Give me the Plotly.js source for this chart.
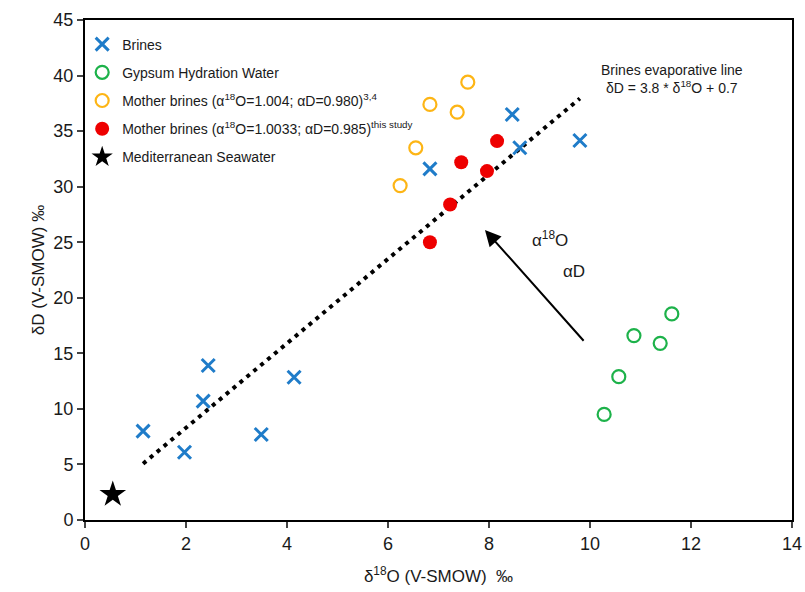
<!DOCTYPE html>
<html><head><meta charset="utf-8">
<script src="https://cdn.plot.ly/plotly-3.0.1.min.js"></script>
<style>body{margin:0;background:#fff}#chart{width:805px;height:592px}</style>
</head><body><div id="chart"></div>
<script>
const brinesX = [1.15, 1.97, 2.34, 2.44, 3.49, 4.14, 6.83, 8.46, 8.61, 9.8];
const brinesY = [8.0, 6.1, 10.7, 13.9, 7.7, 12.85, 31.6, 36.5, 33.5, 34.15];
const gypsumX = [10.28, 10.57, 10.87, 11.39, 11.62];
const gypsumY = [9.5, 12.9, 16.6, 15.9, 18.55];
const motherLitX = [6.24, 6.55, 6.83, 7.37, 7.58];
const motherLitY = [30.1, 33.5, 37.4, 36.7, 39.4];
const motherStudyX = [6.83, 7.23, 7.45, 7.96, 8.16];
const motherStudyY = [25.0, 28.4, 32.2, 31.4, 34.1];
const seawaterX = [0.55];
const seawaterY = [2.3];
const evapLineX = [1.15, 9.8];
const evapLineY = [5.07, 37.94];
const xTicks = [0, 2, 4, 6, 8, 10, 12, 14];
const yTicks = [0, 5, 10, 15, 20, 25, 30, 35, 40, 45];

const traces = [
  {x: evapLineX, y: evapLineY, mode: 'lines', showlegend: false, hoverinfo: 'skip',
   line: {color: '#000', width: 4, dash: '4px,5px'}},
  {x: brinesX, y: brinesY, mode: 'markers', name: 'Brines', legendgroup: 'a',
   marker: {symbol: 'x-thin', size: 13, line: {color: '#1F7CC9', width: 3}, color: '#1F7CC9'}},
  {x: gypsumX, y: gypsumY, mode: 'markers', name: 'Gypsum Hydration Water', legendgroup: 'b',
   marker: {symbol: 'circle-open', size: 13, line: {color: '#1DB24A', width: 2.2}, color: '#1DB24A'}},
  {x: motherLitX, y: motherLitY, mode: 'markers', name: 'Mother brines (α<sup>18</sup>O=1.004; αD=0.980)<sup>3,4</sup>', legendgroup: 'c',
   marker: {symbol: 'circle-open', size: 13, line: {color: '#FDB515', width: 2.2}, color: '#FDB515'}},
  {x: motherStudyX, y: motherStudyY, mode: 'markers', name: 'Mother brines (α<sup>18</sup>O=1.0033; αD=0.985)<sup>this study</sup>', legendgroup: 'd',
   marker: {symbol: 'circle', size: 14, color: '#EE0000'}},
  {x: seawaterX, y: seawaterY, mode: 'markers', name: 'Mediterranean Seawater', legendgroup: 'e',
   marker: {symbol: 'star', size: 20, color: '#000'}}
];

const layout = {
  width: 805, height: 592,
  margin: {l: 85, r: 13, t: 20, b: 72},
  paper_bgcolor: '#fff', plot_bgcolor: '#fff',
  font: {family: 'Liberation Sans, Arial, sans-serif', color: '#1a1a1a'},
  showlegend: true,
  legend: {x: -0.004, y: 0.983, xanchor: 'left', yanchor: 'top', bgcolor: 'rgba(0,0,0,0)',
    font: {size: 14, color: '#1a1a1a'}, tracegroupgap: 7, itemwidth: 30},
  xaxis: {range: [0, 14], tickvals: xTicks, ticks: 'outside', ticklen: 6, tickwidth: 2,
    showgrid: false, zeroline: false, showline: true, linewidth: 2, linecolor: '#000', mirror: true,
    tickfont: {size: 18}, title: {text: 'δ<sup>18</sup>O (V-SMOW)  ‰', font: {size: 17}, standoff: 18}},
  yaxis: {range: [0, 45], tickvals: yTicks, ticks: 'outside', ticklen: 6, tickwidth: 2,
    showgrid: false, zeroline: false, showline: true, linewidth: 2, linecolor: '#000', mirror: true,
    tickfont: {size: 18}, title: {text: 'δD (V-SMOW) ‰', font: {size: 17}, standoff: 4}},
  annotations: [
    {x: 7.92, y: 26.1, ax: 9.9, ay: 16.0, axref: 'x', ayref: 'y', xref: 'x', yref: 'y',
     showarrow: true, arrowhead: 2, arrowsize: 1.6, arrowwidth: 2, arrowcolor: '#000', text: ''},
    {x: 9.2, y: 25.3, xref: 'x', yref: 'y', showarrow: false, text: 'α<sup>18</sup>O', font: {size: 17}},
    {x: 9.68, y: 22.4, xref: 'x', yref: 'y', showarrow: false, text: 'αD', font: {size: 17}},
    {x: 11.62, y: 39.7, xref: 'x', yref: 'y', showarrow: false,
     text: 'Brines evaporative line<br>δD = 3.8 * δ<sup>18</sup>O + 0.7', font: {size: 14}, align: 'center'}
  ]
};
Plotly.newPlot('chart', traces, layout, {displayModeBar: false, staticPlot: true});
</script></body></html>
